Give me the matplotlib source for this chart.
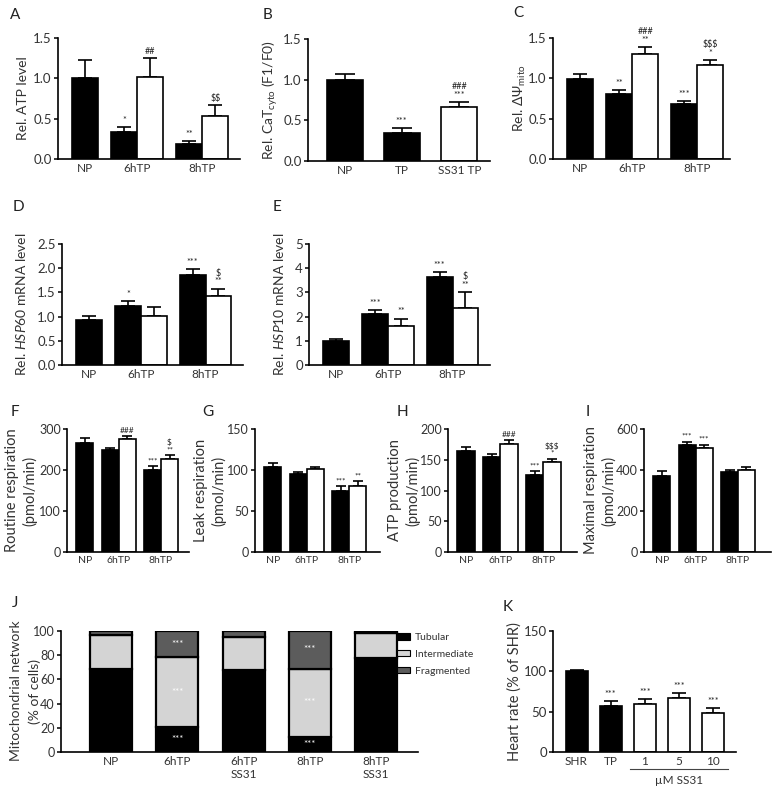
import numpy as np
import matplotlib.pyplot as plt
import matplotlib.transforms as mtransforms
from matplotlib.patches import Patch
from matplotlib.ticker import FormatStrFormatter

plt.rcParams['font.family'] = ['Lato', 'DejaVu Sans']
plt.rcParams['mathtext.fontset'] = 'custom'
plt.rcParams['mathtext.rm'] = 'Lato'
plt.rcParams['mathtext.it'] = 'Lato:italic'
plt.rcParams['mathtext.bf'] = 'Lato:bold'

TXT = '#333333'

# ---- data (bar order: NP, 6hTP, 6hTP+SS31, 8hTP, 8hTP+SS31) ----
groups = ['NP', '6hTP', '8hTP']

atp = [1.00, 0.34, 1.02, 0.19, 0.53]
atp_err = [0.23, 0.06, 0.23, 0.03, 0.14]
atp_sig = ['', '*', '##', '**', '$$']

cat_groups = ['NP', 'TP', 'SS31 TP']
cat = [1.00, 0.35, 0.66]
cat_err = [0.07, 0.06, 0.07]
cat_sig = ['', '***', '###\n***']

psi = [0.99, 0.81, 1.30, 0.68, 1.16]
psi_err = [0.06, 0.05, 0.09, 0.04, 0.07]
psi_sig = ['', '**', '###\n**', '***', '$$$\n*']

hsp60 = [0.94, 1.22, 1.01, 1.86, 1.42]
hsp60_err = [0.07, 0.11, 0.18, 0.12, 0.16]
hsp60_sig = ['', '*', '', '***', '$\n**']

hsp10 = [1.00, 2.10, 1.62, 3.63, 2.36]
hsp10_err = [0.07, 0.17, 0.30, 0.23, 0.67]
hsp10_sig = ['', '***', '**', '***', '$\n**']

routine = [267, 248, 275, 199, 226]
routine_err = [12, 6, 8, 10, 10]
routine_sig = ['', '', '###', '***', '$\n**']

leak = [104, 95, 101, 75, 80]
leak_err = [5, 3, 3, 5, 6]
leak_sig = ['', '', '', '***', '**']

atp_prod = [164, 155, 176, 125, 146]
atp_prod_err = [7, 5, 6, 6, 6]
atp_prod_sig = ['', '', '###', '***', '$$$\n*']

maximal = [372, 523, 506, 388, 400]
maximal_err = [22, 16, 17, 14, 13]
maximal_sig = ['', '***', '***', '', '']

net_labels = ['NP', '6hTP', '6hTP\nSS31', '8hTP', '8hTP\nSS31']
tubular = [68.5, 20.5, 67.5, 12.5, 78]
intermediate = [28, 58, 27.5, 56.5, 20]
fragmented = [3.5, 21.5, 5, 31, 2]
net_sig = ['', '***', '', '***', '']

hr_labels = ['SHR', 'TP', '1', '5', '10']
hr = [100, 57, 60, 67, 48]
hr_err = [2, 6, 6, 6, 7]
hr_sig = ['', '***', '***', '***', '***']

W, H = 776, 789
fig = plt.figure(figsize=(W / 100, H / 100), dpi=100)

colors5 = ['black', 'black', 'white', 'black', 'white']
pos5 = np.array([1.05, 2.55, 3.55, 5.05, 6.05])
tick5 = [1.05, 3.05, 5.55]


def px_axes(l, r, t, b):
    ax = fig.add_axes([l / W, 1 - b / H, (r - l) / W, (b - t) / H])
    ax.px = (l, r)
    return ax


def style(ax, ymax, step, fmt, tsize, xsize):
    ax.set_ylim(0, ymax)
    ax.set_yticks(np.arange(0, ymax + step / 2, step))
    ax.yaxis.set_major_formatter(FormatStrFormatter(fmt))
    for s in ['top', 'right']:
        ax.spines[s].set_visible(False)
    for s in ['left', 'bottom']:
        ax.spines[s].set_linewidth(1.2)
    ax.tick_params(axis='y', length=3, width=1.1, pad=1.5, labelsize=tsize, labelcolor=TXT)
    ax.tick_params(axis='x', length=0, pad=3, labelsize=xsize, labelcolor=TXT)


def ylabel(ax, text, xpx, size):
    l, r = ax.px
    ax.set_ylabel(text, fontsize=size, color=TXT, va='center', linespacing=1.25)
    ax.yaxis.set_label_coords((xpx - l) / (r - l), 0.5)


def bars(ax, pos, vals, errs, colors, sig, cap, sig_size, lw=1.2):
    ax.bar(pos, vals, width=1, color=colors, edgecolor='black', linewidth=lw, zorder=2)
    ax.errorbar(pos, vals, yerr=[np.zeros(len(vals)), errs], fmt='none', ecolor='black',
                elinewidth=lw, capsize=cap, capthick=lw, zorder=1)
    for x, v, e, s in zip(pos, vals, errs, sig):
        if s:
            ax.annotate(s.replace('$', r'\$'), (x, v + e), xytext=(0, 1.5),
                        textcoords='offset points', ha='center', va='bottom',
                        fontsize=sig_size, linespacing=0.95, color='#222222')


# A
ax = px_axes(58, 240, 38, 159)
bars(ax, pos5, atp, atp_err, colors5, atp_sig, 5, 6.5)
ax.set_xlim(0, 7)
ax.set_xticks(tick5, groups)
style(ax, 1.5, 0.5, '%.1f', 9.5, 8.5)
ylabel(ax, 'Rel. ATP level', 23, 10)

# B
ax = px_axes(308, 490, 39, 161)
pos3 = np.array([1.03, 2.6, 4.2])
bars(ax, pos3, cat, cat_err, ['black', 'black', 'white'], cat_sig, 7, 6.5)
ax.set_xlim(0, 5.05)
ax.set_xticks(pos3, cat_groups)
style(ax, 1.5, 0.5, '%.1f', 9.5, 8.5)
ylabel(ax, r'Rel. CaT$_\mathrm{cyto}$ (F1/F0)', 270, 10)

# C
ax = px_axes(553, 730, 38, 159)
bars(ax, pos5, psi, psi_err, colors5, psi_sig, 5, 6.5)
ax.set_xlim(0, 6.8)
ax.set_xticks(tick5, groups)
style(ax, 1.5, 0.5, '%.1f', 9.5, 8.5)
ylabel(ax, r'Rel. ΔΨ$_\mathrm{mito}$', 520, 10)

# D
ax = px_axes(62, 243, 244, 365)
bars(ax, pos5, hsp60, hsp60_err, colors5, hsp60_sig, 5, 6.5)
ax.set_xlim(0, 7)
ax.set_xticks(tick5, groups)
style(ax, 2.5, 0.5, '%.1f', 9.5, 8.5)
ylabel(ax, r'Rel. $\mathit{HSP60}$ mRNA level', 21, 10)

# E
ax = px_axes(309, 490, 244, 365)
bars(ax, pos5, hsp10, hsp10_err, colors5, hsp10_sig, 5, 6.5)
ax.set_xlim(0, 7)
ax.set_xticks(tick5, groups)
style(ax, 5, 1, '%d', 9.5, 8.5)
ylabel(ax, r'Rel. $\mathit{HSP10}$ mRNA level', 279, 10)

# F - I
small = [
    ((67, 189), 7.2, routine, routine_err, routine_sig, 300, 100, 'Routine respiration\n(pmol/min)', 21),
    ((255, 380), 7.35, leak, leak_err, leak_sig, 150, 50, 'Leak respiration\n(pmol/min)', 210),
    ((448, 577), 7.5, atp_prod, atp_prod_err, atp_prod_sig, 200, 50, 'ATP production\n(pmol/min)', 404),
    ((644, 771), 7.5, maximal, maximal_err, maximal_sig, 600, 200, 'Maximal respiration\n(pmol/min)', 600),
]
for (l, r), xmax, vals, errs, sig, ymax, step, lab, lx in small:
    ax = px_axes(l, r, 429, 552)
    bars(ax, pos5, vals, errs, colors5, sig, 3.4, 6)
    ax.set_xlim(0, xmax)
    ax.set_xticks(tick5, groups)
    style(ax, ymax, step, '%d', 9, 7.5)
    ylabel(ax, lab, lx, 10.5)

# J
ax = px_axes(61, 418, 631, 752)
posj = np.array([1.2, 2.77, 4.35, 5.92, 7.5])
b1 = np.array(tubular)
b2 = b1 + np.array(intermediate)
ax.bar(posj, tubular, width=1, color='black', edgecolor='black', linewidth=1.6, zorder=2)
ax.bar(posj, intermediate, bottom=b1, width=1, color='#d4d4d4', edgecolor='black', linewidth=1.6, zorder=2)
ax.bar(posj, fragmented, bottom=b2, width=1, color='#5c5c5c', edgecolor='black', linewidth=1.6, zorder=2)
for x, t, i, f, s in zip(posj, tubular, intermediate, fragmented, net_sig):
    if s:
        for yc in [t / 2, t + i / 2, t + i + f / 2]:
            ax.text(x, yc, s, ha='center', va='center', color='white', fontsize=7, zorder=3)
ax.set_xlim(0, 8.5)
ax.set_xticks(posj, net_labels)
style(ax, 100, 20, '%d', 9, 8.5)
# two-line y label written as separate lines so they sit like the reference
for line, lx in [('Mitochondrial network', 16), ('(% of cells)', 35)]:
    fig.text(lx / W, 1 - 691 / H, line, rotation=90, ha='center', va='center', fontsize=10, color=TXT)
handles = [Patch(facecolor=c, edgecolor='black', linewidth=0.8) for c in ['black', '#d4d4d4', '#5c5c5c']]
leg = ax.legend(handles, ['Tubular', 'Intermediate', 'Fragmented'], loc='upper left',
                bbox_to_anchor=((397 - 61) / 357, (752 - 633) / 121), frameon=False, fontsize=7.5,
                handlelength=1.2, handleheight=0.6, handletextpad=0.5, labelspacing=0.75,
                borderaxespad=0, borderpad=0)
for t in leg.get_texts():
    t.set_color(TXT)

# K
ax = px_axes(553, 736, 631, 752)
posk = np.array([1.07, 2.62, 4.17, 5.72, 7.27])
bars(ax, posk, hr, hr_err, ['black', 'black', 'white', 'white', 'white'], hr_sig, 4.8, 6.5)
ax.set_xlim(0, 8.32)
ax.set_xticks(posk, hr_labels)
style(ax, 150, 50, '%d', 9.5, 8.5)
ylabel(ax, 'Heart rate (% of SHR)', 515, 10.5)
trans = mtransforms.blended_transform_factory(ax.transData, ax.transAxes)
ax.plot([posk[2] - 0.68, posk[4] + 0.68], [-0.14, -0.14], transform=trans, color='#444444',
        lw=0.8, clip_on=False)
ax.text(posk[3], -0.235, 'µM SS31', transform=trans, ha='center', va='center', fontsize=8.5, color=TXT)

# panel letters
letters = [('A', 15, 15), ('B', 268, 15), ('C', 518, 13), ('D', 18, 207), ('E', 277, 207),
           ('F', 15, 412), ('G', 208, 412), ('H', 402, 412), ('I', 588, 412), ('J', 15, 603),
           ('K', 508, 607)]
for s, x, y in letters:
    fig.text(x / W, 1 - y / H, s, ha='center', va='center', fontsize=11, color='#222222')

fig.savefig('out.png', dpi=100)
